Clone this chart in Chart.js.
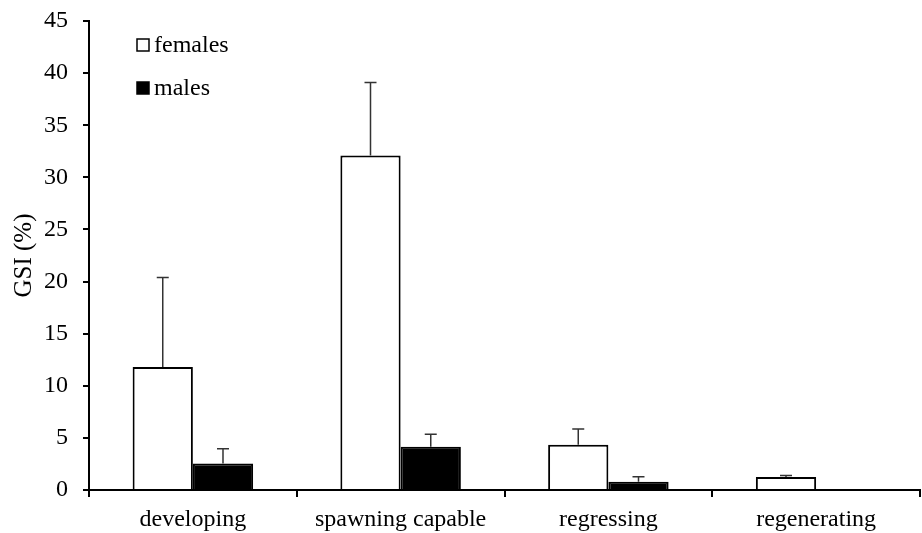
<!DOCTYPE html>
<html>
<head>
<meta charset="utf-8">
<script src="https://cdn.jsdelivr.net/npm/chart.js@4/dist/chart.umd.min.js"></script>
<style>
  html, body { margin: 0; padding: 0; background: #fff; }
  #wrap { width: 922px; height: 533px; }
</style>
</head>
<body>
<div id="wrap"><canvas id="gsiChart" width="922" height="533"></canvas></div>
<script>
// Данные
const categories = ['developing', 'spawning capable', 'regressing', 'regenerating'];
const femaleMeans = [11.8, 32.1, 4.35, 1.25];
const femaleErr = [8.6, 7.0, 1.5, 0.15];
const maleMeans = [2.55, 4.15, 0.8, null];
const maleErr = [1.4, 1.2, 0.48, null];
const yTicks = [0, 5, 10, 15, 20, 25, 30, 35, 40, 45];

const FONT = 'Liberation Serif';

// Планки погрешностей (только вверх)
const errorBars = {
    id: 'errorBars',
    afterDatasetsDraw(chart) {
        const ctx = chart.ctx;
        const y = chart.scales.y;
        chart.data.datasets.forEach((ds, i) => {
            const meta = chart.getDatasetMeta(i);
            meta.data.forEach((bar, j) => {
                const v = ds.data[j];
                const e = ds.errors[j];
                if (v == null || e == null) return;
                const top = y.getPixelForValue(v + e);
                ctx.save();
                ctx.strokeStyle = '#333';
                ctx.lineWidth = 1.5;
                ctx.beginPath();
                ctx.moveTo(bar.x, bar.y);
                ctx.lineTo(bar.x, top);
                ctx.moveTo(bar.x - 6, top);
                ctx.lineTo(bar.x + 6, top);
                ctx.stroke();
                ctx.restore();
            });
        });
    }
};

// Легенда внутри области графика
const innerLegend = {
    id: 'innerLegend',
    afterDraw(chart) {
        const ctx = chart.ctx;
        const items = [
            { label: 'females', fill: '#fff', y: 45 },
            { label: 'males', fill: '#000', y: 88 }
        ];
        ctx.save();
        ctx.font = '24px "' + FONT + '"';
        ctx.textBaseline = 'middle';
        items.forEach(it => {
            ctx.fillStyle = it.fill;
            ctx.fillRect(137, it.y - 6, 12, 12);
            ctx.strokeStyle = '#000';
            ctx.lineWidth = 1.5;
            ctx.strokeRect(137, it.y - 6, 12, 12);
            ctx.fillStyle = '#000';
            ctx.fillText(it.label, 154, it.y + 1);
        });
        ctx.restore();
    }
};

new Chart(document.getElementById('gsiChart'), {
    type: 'bar',
    data: {
        labels: categories,
        datasets: [
            {
                label: 'females',
                data: femaleMeans,
                errors: femaleErr,
                backgroundColor: '#fff',
                borderColor: '#000',
                borderWidth: 2
            },
            {
                label: 'males',
                data: maleMeans,
                errors: maleErr,
                backgroundColor: '#000',
                borderColor: '#000',
                borderWidth: 2
            }
        ]
    },
    options: {
        responsive: false,
        animation: false,
        layout: { padding: { top: 21, right: 2, left: 0, bottom: 0 } },
        datasets: { bar: { categoryPercentage: 0.58, barPercentage: 1 } },
        plugins: {
            legend: { display: false },
            tooltip: { enabled: false }
        },
        scales: {
            x: {
                grid: { display: true, drawOnChartArea: false, offset: true, tickLength: 7, color: '#000', lineWidth: 2 },
                border: { color: '#000', width: 2 },
                ticks: { color: '#000', font: { family: FONT, size: 24 }, padding: 8 },
                afterFit: s => { s.height = 43; }
            },
            y: {
                min: 0,
                max: 45,
                afterBuildTicks: s => { s.ticks = yTicks.map(v => ({ value: v })); },
                grid: { display: true, drawOnChartArea: false, tickLength: 6, color: '#000', lineWidth: 2 },
                border: { color: '#000', width: 2 },
                ticks: { color: '#000', font: { family: FONT, size: 24 }, padding: 15 },
                title: { display: true, text: 'GSI (%)', color: '#000', font: { family: FONT, size: 25 }, padding: 9 },
                afterFit: s => { s.width = 89; s.paddingTop = 0; s.paddingBottom = 0; }
            }
        }
    },
    plugins: [errorBars, innerLegend]
});
</script>
</body>
</html>
